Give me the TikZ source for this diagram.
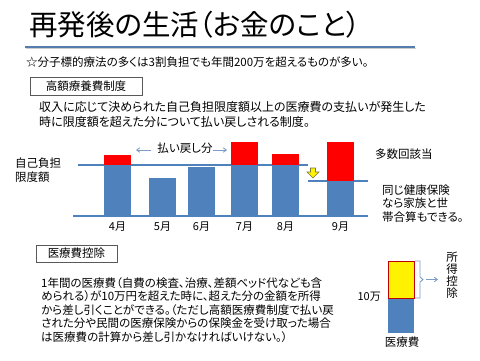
\documentclass[tikz,border=0pt]{standalone}
\usepackage{fontspec}
\setmainfont[RawFeature=+palt]{Noto Sans CJK JP}
\usepackage{tikz}
\usetikzlibrary{arrows.meta}
\definecolor{barblue}{RGB}{79,129,189}
\definecolor{barred}{RGB}{255,0,0}
\definecolor{edgered}{RGB}{192,0,0}
\definecolor{softblue}{RGB}{125,155,200}
\definecolor{boxframe}{RGB}{89,89,89}
\definecolor{titleblue}{RGB}{84,124,172}

\begin{document}
\begin{tikzpicture}[x=1pt, y=-1pt,
    txt/.style={inner sep=0pt, font=\fontsize{11}{13.5}\selectfont},
    labelbox/.style={draw=boxframe, line width=0.6pt, inner sep=0pt,
        font=\fontsize{11.5}{14}\selectfont},
    chartline/.style={barblue, line width=1.1pt},
    softarrow/.style={softblue, line width=0.9pt, -{Straight Barb[length=3pt,width=4.5pt]}}]

    % --- Page ---
    \useasboundingbox (0,0) rectangle (480,360);
    \fill[white] (0,0) rectangle (480,360);

    % --- Title and underline ---
    \node[txt, anchor=west, font=\fontsize{28.5}{32}\selectfont] (title) at (29,25) {再発後の生活（お金のこと）};
    \draw[gray!40, line width=1.5pt] (26,48.5) -- (416,48.5);
    \draw[titleblue, line width=2.2pt] (25,47) -- (415,47);

    \node[txt, anchor=west, font=\fontsize{11.5}{14}\selectfont] (note) at (26,62)
        {☆分子標的療法の多くは3割負担でも年間200万を超えるものが多い。};

    % --- High-cost medical expense system ---
    \node[labelbox, minimum width=112pt, minimum height=18pt] (highbox) at (86,86) {高額療養費制度};
    \node[txt, anchor=west, align=left, font=\fontsize{12}{15}\selectfont] (highcost) at (39,114.5)
        {収入に応じて決められた自己負担限度額以上の医療費の支払いが発生した\\時に限度額を超えた分について払い戻しされる制度。};

    % --- Chart lines ---
    \draw[chartline] (73,216) -- (368,216);
    \draw[chartline] (78,165) -- (308,165);
    \draw[chartline] (308,181) -- (368,181);

    % --- Monthly bars (left, blue top, red top, month) ---
    \foreach \x/\b/\r/\m in {104/165/155/4, 149/178/178/5, 188/167/167/6,
                             231/165/142/7, 272/165/154/8, 327/181/142/9} {
        \fill[barred] (\x,\r) rectangle (\x+27,\b);
        \fill[barblue] (\x,\b) rectangle (\x+27,216);
        \node[txt, font=\fontsize{11}{13}\selectfont] (month\m) at (\x+13.5,227) {\m 月};
    }

    % --- Chart labels ---
    \node[txt, anchor=west, align=left, font=\fontsize{11.5}{14}\selectfont] (limit) at (15,170) {自己負担\\限度額};
    \node[txt, font=\fontsize{11.5}{14}\selectfont] (refund) at (185,148) {払い戻し分};
    \coordinate (refL) at (136,150);
    \coordinate (refR) at (227,150);
    \draw[softarrow] ([xshift=-6pt,yshift=-2pt]refund.west) -- (refL);
    \draw[softarrow] ([yshift=-2pt]refund.east) -- (refR);

    % Yellow down arrow
    \draw[fill=yellow, draw={rgb,255:red,120;green,120;blue,60}, line width=0.6pt]
        (310.5,168) -- (315.5,168) -- (315.5,172) -- (319,172) -- (313,178)
        -- (307,172) -- (310.5,172) -- cycle;

    \node[txt, anchor=west, font=\fontsize{11.5}{14}\selectfont] (multi) at (375,154) {多数回該当};
    \node[txt, anchor=west, align=left, font=\fontsize{11.5}{13.5}\selectfont] (family) at (382,203.5)
        {同じ健康保険\\なら家族と世\\帯合算もできる。};

    % --- Medical expense deduction ---
    \node[labelbox, minimum width=81pt, minimum height=17pt] (dedbox) at (76.5,253.5) {医療費控除};
    \node[txt, anchor=west, align=left, font=\fontsize{11.5}{13.5}\selectfont] (deduct) at (41,310)
        {1年間の医療費（自費の検査、治療、差額ベッド代なども含\\
         められる）が10万円を超えた時に、超えた分の金額を所得\\
         から差し引くことができる。（ただし高額医療費制度で払い戻\\
         された分や民間の医療保険からの保険金を受け取った場合\\
         は医療費の計算から差し引かなければいけない。）};

    % --- Deduction bar ---
    \fill[barblue] (388,298) rectangle (414,333);
    \draw[fill=yellow, draw=edgered, line width=1pt] (388,261) rectangle (414,298);
    \node[txt, anchor=east, font=\fontsize{11}{13}\selectfont] (tenman) at (381,297) {10万};
    \node[txt, font=\fontsize{11.5}{14}\selectfont] (medcost) at (402,342) {医療費};
    % bracket
    \draw[softblue, line width=0.9pt]
        (415,261) -- (420,261) -- (420,277) -- (423,279.5) -- (420,282)
        -- (420,298) -- (415,298);
    \node[txt, align=center, font=\fontsize{11.5}{12}\selectfont] (income) at (452,275.5) {所\\得\\控\\除};
    \coordinate (braceTip) at (426,279.5);
    \draw[softarrow] (braceTip) -- ([xshift=-8pt]income.west |- braceTip);

\end{tikzpicture}
\end{document}
